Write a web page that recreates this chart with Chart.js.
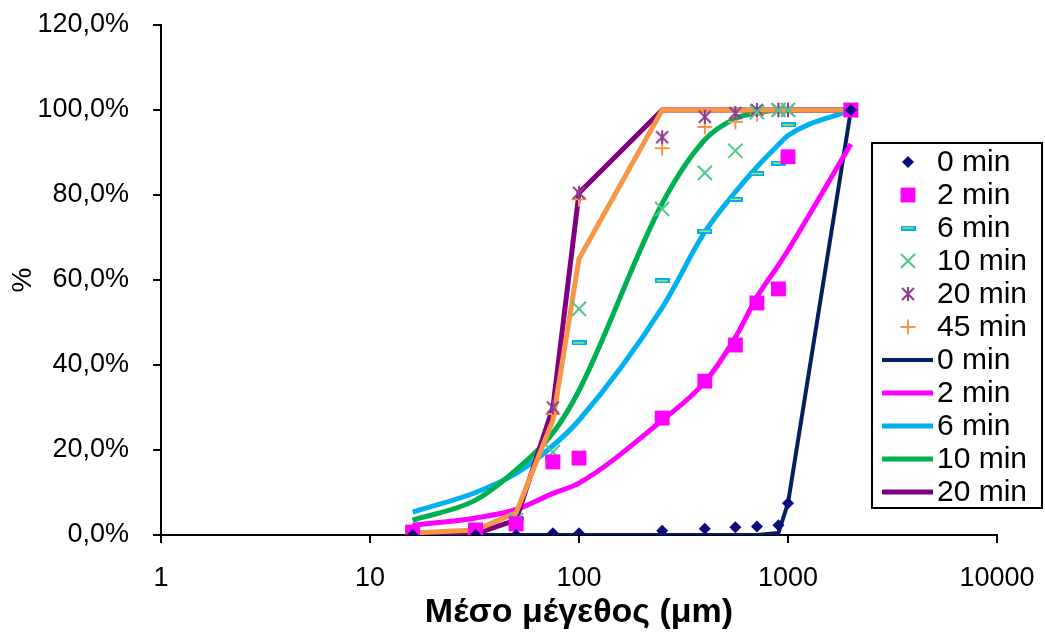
<!DOCTYPE html>
<html>
<head>
<meta charset="utf-8">
<script src="https://cdn.jsdelivr.net/npm/chart.js@4.4.1/dist/chart.umd.min.js"></script>
<style>
  html, body { margin: 0; padding: 0; background: #fff; }
  #wrap { width: 1045px; height: 635px; }
</style>
</head>
<body>
<div id="wrap"><canvas id="sizeChart" width="1045" height="635"></canvas></div>
<script>
// mean sieve size (µm) shared by every series
const sizes = [16, 32, 50, 75, 100, 250, 400, 560, 710, 900, 1000, 2000];

// measured cumulative passing (%)
const meas0  = [0, 0, 0, 0.4, 0.4, 1.0, 1.5, 1.8, 2.0, 2.3, 7.5, 100];
const meas2  = [0.7, 1.2, 2.6, 17.2, 18.1, 27.5, 36.2, 44.7, 54.6, 57.9, 89.0, 100];
const meas6  = [1.4, 2.0, 3.8, 18.0, 45.2, 59.8, 71.5, 79.0, 85.0, 87.5, 96.5, 100];
const meas10 = [0.6, 1.0, 3.5, 19.5, 53.2, 76.7, 85.2, 90.4, 99.5, 100, 100, 100];
const meas20 = [0.3, 0.5, 2.5, 30.0, 80.5, 93.6, 98.4, 99.3, 100, 100, 100, 100];
const meas45 = [0.3, 0.5, 3.0, 28.5, 79.0, 91.0, 96.0, 97.2, 99.0, 100, 100, 100];

// fitted curves (%)
const model0  = [0, 0, 0, 0, 0, 0, 0, 0, 0, 0.5, 7.5, 100];
const model2  = [2.3, 4.0, 6.0, 9.8, 12.2, 27.0, 36.0, 46.5, 56.0, 63.5, 67.0, 92.0];
const model6  = [5.4, 10.0, 14.5, 21.0, 27.0, 53.5, 71.3, 80.7, 86.6, 91.8, 94.0, 100];
const model10 = [3.5, 8.2, 15.3, 24.0, 34.0, 78.0, 93.0, 98.0, 99.3, 100, 100, 100];
const model20 = [0, 0.3, 3.5, 30.0, 80.5, 100, 100, 100, 100, 100, 100, 100];
const model45 = [0.5, 1.2, 5.2, 27.0, 65.0, 100, 100, 100, 100, 100, 100, 100];

const xTickValues = [1, 10, 100, 1000, 10000];
const xTickLabels = ['1', '10', '100', '1000', '10000'];
const yTickLabels = ['0,0%', '20,0%', '40,0%', '60,0%', '80,0%', '100,0%', '120,0%'];

const FONT = "'Liberation Sans', Arial, sans-serif";

const toPoints = vals => vals.map((v, i) => ({ x: sizes[i], y: v }));

// small canvases for the two marker shapes chart.js has no built-in for
function makeMarker(w, h, paint) {
    const c = document.createElement('canvas');
    c.width = w; c.height = h;
    paint(c.getContext('2d'));
    return c;
}
const dashMarker = makeMarker(15, 5, g => {
    g.fillStyle = '#00b0f0'; g.fillRect(0, 0, 15, 5);
    g.fillStyle = '#ffff00'; g.fillRect(2, 2, 11, 1);
});
const starMarker = makeMarker(16, 16, g => {
    g.strokeStyle = '#8e3b92'; g.lineWidth = 2;
    g.beginPath();
    g.moveTo(2, 2); g.lineTo(14, 14);
    g.moveTo(14, 2); g.lineTo(2, 14);
    g.moveTo(8, 1); g.lineTo(8, 15);
    g.stroke();
});

function markers(label, vals, style, color, radius, bw) {
    return {
        label, data: toPoints(vals), showLine: false, order: 1,
        pointStyle: style, pointRadius: radius, pointHoverRadius: radius,
        pointBackgroundColor: color, pointBorderColor: color, pointBorderWidth: bw
    };
}
function curve(label, vals, color, width, smooth) {
    return {
        label, data: toPoints(vals), showLine: true, order: 2,
        borderColor: color, backgroundColor: color, borderWidth: width,
        pointRadius: 0, cubicInterpolationMode: smooth ? 'monotone' : 'default'
    };
}

const datasets = [
    markers('0 min', meas0, 'rectRot', '#0b0b7e', 6, 0),
    markers('2 min', meas2, 'rect', '#ff00ff', 10.5, 0),
    markers('6 min', meas6, dashMarker, '#00b0f0', 6, 0),
    markers('10 min', meas10, 'crossRot', '#4fc88a', 10, 2),
    markers('20 min', meas20, starMarker, '#8e3b92', 8, 0),
    markers('45 min', meas45, 'cross', '#f79646', 7.5, 2),
    curve('45 min', model45, '#f79646', 5, false),
    curve('20 min', model20, '#800080', 5, false),
    curve('10 min', model10, '#00b050', 5, true),
    curve('6 min', model6, '#00b0f0', 5, true),
    curve('2 min', model2, '#ff00ff', 5, true),
    curve('0 min', model0, '#002060', 4, false)
];
// legend rows: the six marker series then five of the curves (no 45 min curve)
const legendOrder = [0, 1, 2, 3, 4, 5, 11, 10, 9, 8, 7];

const boxLegend = {
    id: 'boxLegend',
    afterDraw(chart) {
        const ctx = chart.ctx;
        const left = 872, top = 143, w = 170, h = 365, rowH = 33;
        ctx.save();
        ctx.fillStyle = '#fff';
        ctx.fillRect(left, top, w, h);
        ctx.strokeStyle = '#000';
        ctx.lineWidth = 2;
        ctx.strokeRect(left, top, w, h);
        legendOrder.forEach((idx, row) => {
            const ds = chart.data.datasets[idx];
            const cy = top + 19 + row * rowH;
            if (ds.showLine) {
                ctx.strokeStyle = ds.borderColor;
                ctx.lineWidth = ds.borderWidth;
                ctx.beginPath();
                ctx.moveTo(882, cy);
                ctx.lineTo(933, cy);
                ctx.stroke();
            } else {
                ctx.fillStyle = ds.pointBackgroundColor;
                ctx.strokeStyle = ds.pointBorderColor;
                ctx.lineWidth = ds.pointBorderWidth;
                Chart.helpers.drawPoint(ctx, {
                    pointStyle: ds.pointStyle, radius: ds.pointRadius,
                    rotation: 0, borderWidth: ds.pointBorderWidth
                }, 908, cy);
            }
            ctx.fillStyle = '#000';
            ctx.font = '30px ' + FONT;
            ctx.textBaseline = 'middle';
            ctx.textAlign = 'left';
            ctx.fillText(ds.label, 937, cy + 1);
        });
        ctx.restore();
    }
};

new Chart(document.getElementById('sizeChart'), {
    type: 'scatter',
    data: { datasets },
    options: {
        responsive: false,
        animation: false,
        devicePixelRatio: 1,
        layout: { padding: { top: 25, right: 48, left: 0, bottom: 0 } },
        plugins: { legend: { display: false }, tooltip: { enabled: false } },
        scales: {
            x: {
                type: 'logarithmic',
                min: 1, max: 10000,
                afterBuildTicks: s => { s.ticks = xTickValues.map(v => ({ value: v })); },
                // fixed plot box: no extra room for the end labels
                afterFit: s => { s.height = 100; s.paddingLeft = 0; s.paddingRight = 0; },
                grid: { drawOnChartArea: false, tickLength: 8, color: '#000', lineWidth: 2 },
                border: { display: true, color: '#000', width: 2 },
                ticks: {
                    color: '#000', padding: 19, maxRotation: 0, autoSkip: false,
                    font: { family: FONT, size: 27 },
                    callback: (v, i) => xTickLabels[i]
                },
                title: {
                    display: true, text: 'Μέσο μέγεθος (μm)', color: '#000',
                    font: { family: FONT, size: 34, weight: 'bold' },
                    padding: { top: 0, bottom: 2 }
                }
            },
            y: {
                min: 0, max: 120,
                afterFit: s => { s.width = 161; s.paddingTop = 0; s.paddingBottom = 0; },
                grid: { drawOnChartArea: false, tickLength: 8, color: '#000', lineWidth: 2 },
                border: { display: true, color: '#000', width: 2 },
                ticks: {
                    stepSize: 20, color: '#000', padding: 24,
                    font: { family: FONT, size: 27 },
                    callback: (v, i) => yTickLabels[i]
                },
                title: {
                    display: true, text: '%', color: '#000',
                    font: { family: FONT, size: 28 },
                    padding: { top: 6, bottom: 0 }
                }
            }
        }
    },
    plugins: [boxLegend]
});
</script>
</body>
</html>
